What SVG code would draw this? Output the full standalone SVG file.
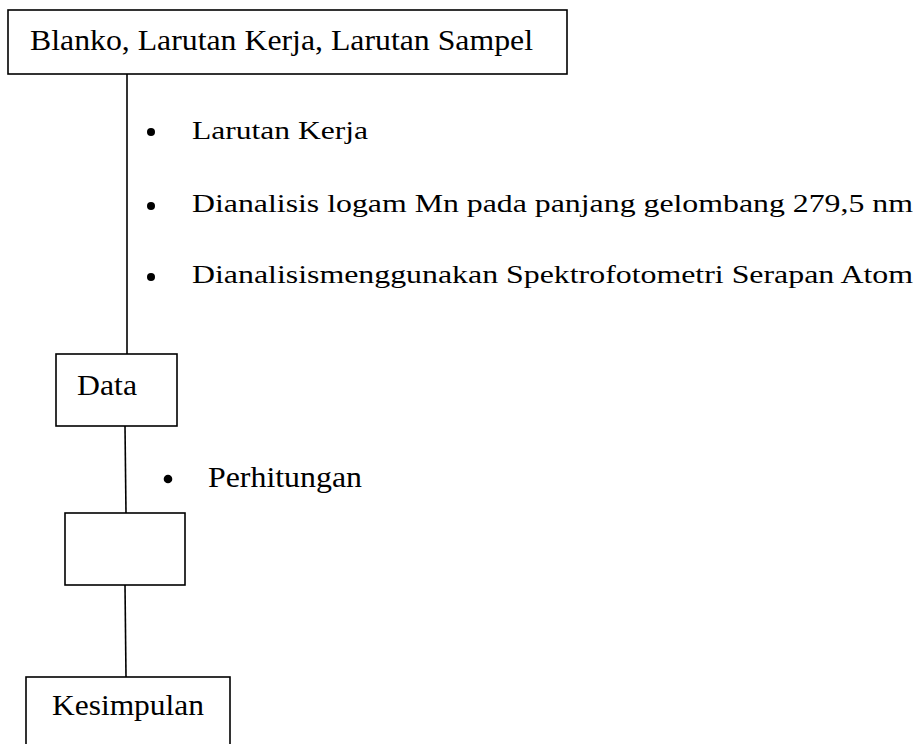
<svg xmlns="http://www.w3.org/2000/svg" width="923" height="744" viewBox="0 0 923 744">
<style>
.box{fill:#fff;stroke:#000;stroke-width:1.6}
.ln{stroke:#000;stroke-width:1.6;fill:none}
.t{font-family:"Liberation Serif","Times New Roman",serif;font-size:29px;fill:#000}
.s{font-size:26px}
.b{fill:#000}
</style>
<rect width="923" height="744" fill="#fff"/>
<g id="connectors">
<line class="ln" x1="127" y1="74" x2="127" y2="354"/>
<line class="ln" x1="125" y1="426" x2="126" y2="513"/>
<line class="ln" x1="125" y1="585" x2="126" y2="677"/>
</g>
<g id="node-start">
<rect class="box" x="8" y="10" width="559" height="64"/>
<text class="t" x="30" y="50" textLength="503" lengthAdjust="spacingAndGlyphs">Blanko, Larutan Kerja, Larutan Sampel</text>
</g>
<g id="steps-1">
<circle class="b" cx="151" cy="132" r="4"/>
<text class="t s" x="192" y="139" textLength="176" lengthAdjust="spacingAndGlyphs">Larutan Kerja</text>
<circle class="b" cx="151" cy="206" r="4"/>
<text class="t s" x="192" y="212" textLength="721" lengthAdjust="spacingAndGlyphs">Dianalisis logam Mn pada panjang gelombang 279,5 nm</text>
<circle class="b" cx="151" cy="277" r="4"/>
<text class="t s" x="192" y="283" textLength="721" lengthAdjust="spacingAndGlyphs">Dianalisismenggunakan Spektrofotometri Serapan Atom</text>
</g>
<g id="node-data">
<rect class="box" x="56" y="354" width="121" height="72"/>
<text class="t" x="77" y="395" textLength="60" lengthAdjust="spacingAndGlyphs">Data</text>
</g>
<g id="steps-2">
<circle class="b" cx="168" cy="479" r="4.3"/>
<text class="t" x="208" y="487" textLength="154" lengthAdjust="spacingAndGlyphs">Perhitungan</text>
</g>
<g id="node-empty">
<rect class="box" x="65" y="513" width="120" height="72"/>
</g>
<g id="node-kesimpulan">
<rect class="box" x="26" y="677" width="204" height="72"/>
<text class="t" x="52" y="715" textLength="152" lengthAdjust="spacingAndGlyphs">Kesimpulan</text>
</g>
</svg>
